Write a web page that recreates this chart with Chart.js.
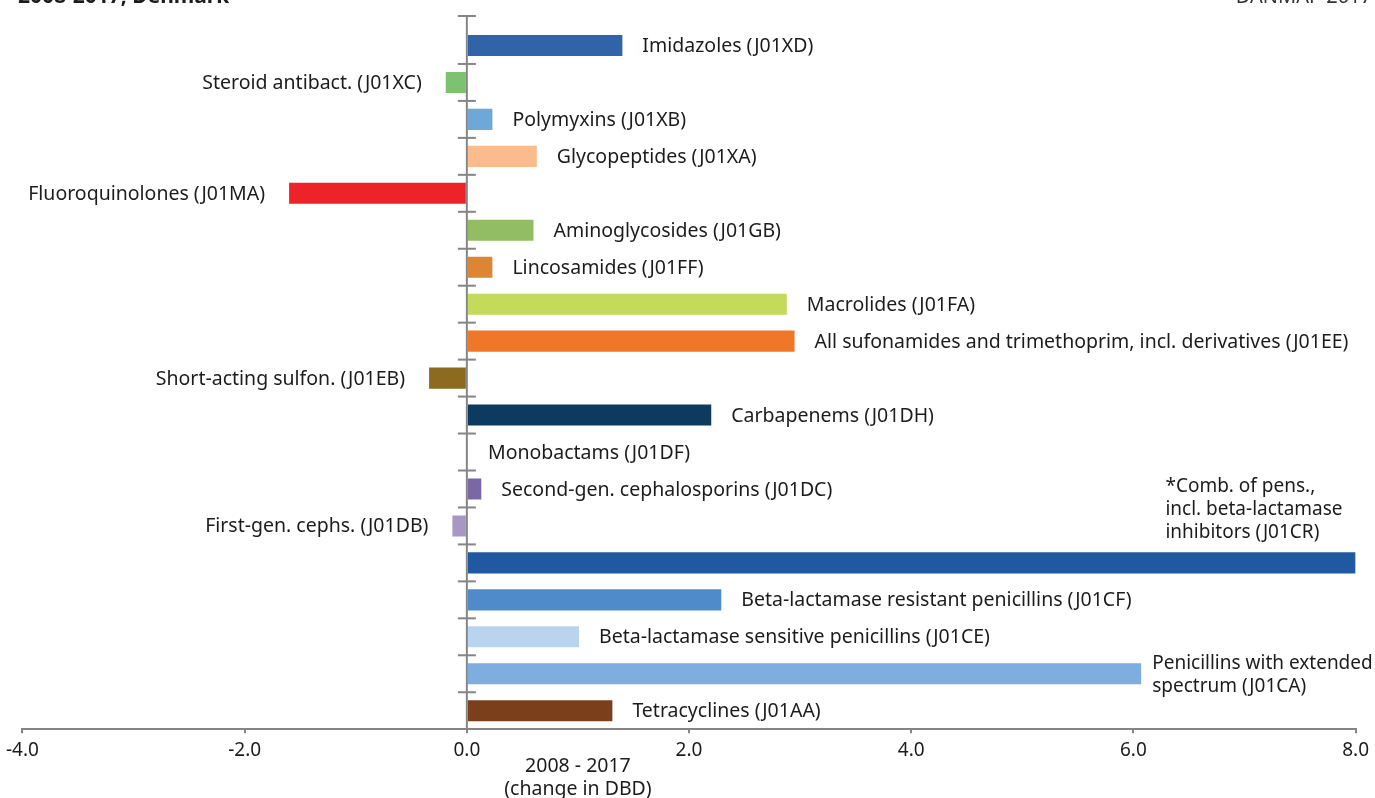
<!DOCTYPE html>
<html>
<head>
<meta charset="utf-8">
<script src="https://cdn.jsdelivr.net/npm/chart.js@4.4.1/dist/chart.umd.min.js"></script>
<style>
  html, body { margin: 0; padding: 0; background: #fff; }
  #wrap { width: 1375px; height: 798px; position: relative; }
</style>
</head>
<body>
<div id="wrap"><canvas id="atc_change_chart"></canvas></div>
<script>
    // ATC groups, top to bottom
    const categories = [
        'Imidazoles (J01XD)',
        'Steroid antibact. (J01XC)',
        'Polymyxins (J01XB)',
        'Glycopeptides (J01XA)',
        'Fluoroquinolones (J01MA)',
        'Aminoglycosides (J01GB)',
        'Lincosamides (J01FF)',
        'Macrolides (J01FA)',
        'All sufonamides and trimethoprim, incl. derivatives (J01EE)',
        'Short-acting sulfon. (J01EB)',
        'Carbapenems (J01DH)',
        'Monobactams (J01DF)',
        'Second-gen. cephalosporins (J01DC)',
        'First-gen. cephs. (J01DB)',
        '*Comb. of pens.,|incl. beta-lactamase|inhibitors (J01CR)',
        'Beta-lactamase resistant penicillins (J01CF)',
        'Beta-lactamase sensitive penicillins (J01CE)',
        'Penicillins with extended|spectrum (J01CA)',
        'Tetracyclines (J01AA)'
    ];

    // change in DBD 2008 - 2017
    const change_values = [
        1.40, -0.19, 0.23, 0.63, -1.60, 0.60, 0.23, 2.88, 2.95, -0.34,
        2.20, 0.01, 0.13, -0.13, 8.00, 2.29, 1.01, 6.07, 1.31
    ];

    const bar_colors = [
        '#3163a9', '#7dc36f', '#6ea8d9', '#fbbb8c', '#ed2327',
        '#93bd64', '#dc8633', '#c4da5a', '#f07727', '#8c6a1f',
        '#0d3a5f', '#b87a4a', '#7b66a6', '#a897c4', '#2159a1',
        '#4f8bca', '#b8d4ee', '#7eaedf', '#7c3f1b'
    ];

    const x_ticks = [-4, -2, 0, 2, 4, 6, 8];
    const x_title = ['2008 - 2017', '(change in DBD)'];

    const font_family = '"Noto Sans", Roboto, sans-serif';
    const axis_grey = '#858585';
    const text_color = '#1c1c1c';

    // y axis drawn through zero with crossing ticks, plus bar labels
    const bar_label_plugin = {
        id: 'bar_label_plugin',
        afterDatasetsDraw( chart ){
            const ctx  = chart.ctx;
            const xs   = chart.scales.x;
            const ys   = chart.scales.y;
            const area = chart.chartArea;
            const x0   = xs.getPixelForValue( 0 );
            const band = ( ys.bottom - ys.top ) / categories.length;

            ctx.save();
            ctx.strokeStyle = axis_grey;
            ctx.lineWidth = 2;
            ctx.beginPath();
            ctx.moveTo( x0, ys.top - 11 );
            ctx.lineTo( x0, ys.bottom );
            ctx.stroke();
            let tick_ys = [ ys.top - 11 ];
            for( let i = 1; i < categories.length; i++ ){
                tick_ys.push( ys.getPixelForValue( i ) - band / 2 );
            }
            tick_ys.forEach( function( ty ){
                ctx.beginPath();
                ctx.moveTo( x0 - 9, ty );
                ctx.lineTo( x0 + 9, ty );
                ctx.stroke();
            });

            // labels next to bars
            ctx.fillStyle = text_color;
            ctx.textBaseline = 'middle';
            const meta = chart.getDatasetMeta( 0 );
            meta.data.forEach( function( bar, i ){
                const lines = categories[i].split( '|' );
                const lh = 23;
                const v  = change_values[i];
                ctx.font = ( lines.length > 1 ? '19px ' : '19.5px ' ) + font_family;
                if( bar.x >= area.right - 1 ){
                    // no room on the right: put it above the bar
                    ctx.textAlign = 'left';
                    let w = Math.max.apply( null, lines.map( l => ctx.measureText( l ).width ) );
                    let lx = area.right - 13 - w;
                    let bottom = bar.y - bar.height / 2 - 20;
                    lines.forEach( function( l, k ){
                        ctx.fillText( l, lx, bottom - ( lines.length - 1 - k ) * lh );
                    });
                } else if( v >= 0 ){
                    ctx.textAlign = 'left';
                    let gap = lines.length > 1 ? 11 : 20;
                    let start = bar.y + 1 - ( lines.length - 1 ) * lh / 2;
                    lines.forEach( function( l, k ){
                        ctx.fillText( l, bar.x + gap, start + k * lh );
                    });
                } else {
                    ctx.textAlign = 'right';
                    let start = bar.y + 1 - ( lines.length - 1 ) * lh / 2;
                    lines.forEach( function( l, k ){
                        ctx.fillText( l, bar.x - 24, start + k * lh );
                    });
                }
            });

            // x axis title, centred under 1.0
            ctx.font = '19.5px ' + font_family;
            ctx.textAlign = 'center';
            const tx = xs.getPixelForValue( 1 );
            ctx.fillText( x_title[0], tx, 766 );
            ctx.fillText( x_title[1], tx, 789 );

            // header, mostly cut off at the top of the picture
            ctx.textBaseline = 'alphabetic';
            ctx.textAlign = 'left';
            ctx.font = 'bold 21px ' + font_family;
            ctx.fillText( '2008-2017, Denmark', 18, 3 );
            ctx.textAlign = 'right';
            ctx.font = '20px ' + font_family;
            ctx.fillStyle = '#333';
            ctx.fillText( 'DANMAP 2017', 1372, 3 );
            ctx.restore();
        }
    };

    const config = {
        type: 'bar',
        data: {
            labels: categories,
            datasets: [{
                label: 'Change in DBD',
                data: change_values,
                backgroundColor: bar_colors,
                borderWidth: 0,
                barPercentage: 0.57,
                categoryPercentage: 1.0
            }]
        },
        options: {
            indexAxis: 'y',
            responsive: true,
            maintainAspectRatio: false,
            animation: false,
            layout: {
                padding: { left: 22, right: 19, top: 27, bottom: 30 }
            },
            scales: {
                x: {
                    min: -4,
                    max: 8,
                    afterBuildTicks: function( axis ){
                        axis.ticks = x_ticks.map( v => ({ value: v }) );
                    },
                    ticks: {
                        color: text_color,
                        font: { family: font_family, size: 19 },
                        padding: 6,
                        callback: v => Number( v ).toFixed( 1 )
                    },
                    grid: {
                        drawOnChartArea: false,
                        drawTicks: true,
                        tickLength: 4,
                        color: axis_grey,
                        lineWidth: 2
                    },
                    border: { color: axis_grey, width: 2 }
                },
                y: {
                    display: false
                }
            },
            plugins: {
                legend: { display: false },
                tooltip: { enabled: false }
            }
        },
        plugins: [ bar_label_plugin ]
    };

    const atc_change_chart = new Chart(
        document.getElementById( 'atc_change_chart' ),
        config
    );
</script>
</body>
</html>
